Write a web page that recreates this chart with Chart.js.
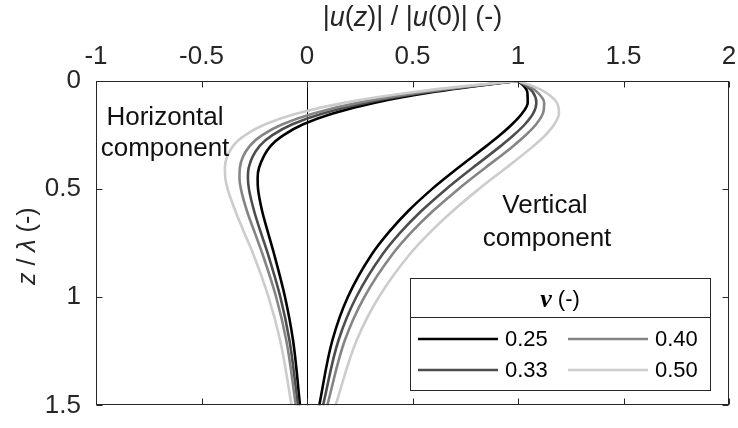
<!DOCTYPE html>
<html>
<head>
<meta charset="utf-8">
<script src="https://cdn.jsdelivr.net/npm/chart.js@4/dist/chart.umd.min.js"></script>
<style>
  html, body { margin: 0; padding: 0; background: #ffffff; }
  #wrap { width: 738px; height: 428px; }
</style>
</head>
<body>
<div id="wrap"><canvas id="c" width="738" height="428"></canvas></div>
<script>
// Normalised depth z / lambda
const depth = [0, 0.025, 0.05, 0.1, 0.15, 0.2, 0.25, 0.3, 0.4, 0.45, 0.5, 0.6, 0.7, 0.8, 1.0, 1.2, 1.5];

// Poisson's ratios
const poissonLabels = ['0.25', '0.33', '0.40', '0.50'];

// Horizontal component |u(z)| / |u(0)|
const horiz025 = [1, 0.787, 0.606, 0.322, 0.122, -0.018, -0.111, -0.172, -0.227, -0.234, -0.232, -0.213, -0.185, -0.156, -0.104, -0.066, -0.033];
const horiz033 = [1, 0.773, 0.581, 0.283, 0.074, -0.069, -0.164, -0.224, -0.276, -0.280, -0.275, -0.251, -0.219, -0.185, -0.126, -0.083, -0.043];
const horiz040 = [1, 0.760, 0.558, 0.246, 0.030, -0.116, -0.212, -0.271, -0.318, -0.320, -0.313, -0.285, -0.248, -0.211, -0.146, -0.098, -0.053];
const horiz050 = [1, 0.736, 0.515, 0.180, -0.048, -0.198, -0.293, -0.350, -0.389, -0.387, -0.376, -0.340, -0.298, -0.255, -0.182, -0.127, -0.073];

// Vertical component |u(z)| / |u(0)|
const vert025 = [1, 1.029, 1.044, 1.046, 1.019, 0.972, 0.915, 0.851, 0.718, 0.654, 0.592, 0.481, 0.387, 0.308, 0.193, 0.120, 0.058];
const vert033 = [1, 1.042, 1.069, 1.087, 1.072, 1.033, 0.980, 0.919, 0.787, 0.722, 0.659, 0.543, 0.443, 0.359, 0.233, 0.149, 0.076];
const vert040 = [1, 1.054, 1.090, 1.124, 1.118, 1.086, 1.037, 0.978, 0.847, 0.781, 0.717, 0.598, 0.494, 0.406, 0.271, 0.179, 0.096];
const vert050 = [1, 1.074, 1.127, 1.184, 1.194, 1.172, 1.130, 1.074, 0.946, 0.879, 0.814, 0.692, 0.583, 0.488, 0.340, 0.235, 0.135];

// Axis ticks
const xTicks = [-1, -0.5, 0, 0.5, 1, 1.5, 2];
const yTicks = [0, 0.5, 1, 1.5];

// Styling
const lineColors = ['#000000', '#4d4d4d', '#858585', '#cccccc'];
const SANS = '"Liberation Sans", Arial, Helvetica, sans-serif';
const SERIF = '"Liberation Serif", "Times New Roman", serif';
const AXIS_COLOR = '#262626';

const horizSets = [horiz025, horiz033, horiz040, horiz050];
const vertSets = [vert025, vert033, vert040, vert050];

const toPoints = vals => vals.map((v, k) => ({ x: v, y: depth[k] }));

const datasets = [];
poissonLabels.forEach((nu, i) => {
  const common = {
    borderColor: lineColors[i],
    backgroundColor: lineColors[i],
    borderWidth: 2.6,
    pointRadius: 0,
    pointHoverRadius: 0,
    cubicInterpolationMode: 'monotone',
    fill: false,
    order: poissonLabels.length - i
  };
  datasets.push(Object.assign({ label: nu + ' horizontal', data: toPoints(horizSets[i]) }, common));
  datasets.push(Object.assign({ label: nu + ' vertical', data: toPoints(vertSets[i]) }, common));
});

// Draw a run of text pieces with individual fonts, starting at x (or centred)
function richWidth(ctx, parts) {
  let w = 0;
  parts.forEach(p => { ctx.font = p.font; w += ctx.measureText(p.text).width; });
  return w;
}
function drawRich(ctx, parts, x, y, align) {
  const w = richWidth(ctx, parts);
  let cx = align === 'center' ? x - w / 2 : x;
  ctx.textAlign = 'left';
  ctx.textBaseline = 'middle';
  parts.forEach(p => {
    ctx.font = p.font;
    ctx.fillText(p.text, cx, y);
    cx += ctx.measureText(p.text).width;
  });
}

const decor = {
  id: 'decor',
  beforeDatasetsDraw(chart) {
    const { ctx, chartArea: a, scales: { x } } = chart;
    const x0 = Math.round(x.getPixelForValue(0)) + 0.5;
    ctx.save();
    ctx.strokeStyle = '#000000';
    ctx.lineWidth = 1;
    ctx.beginPath();
    ctx.moveTo(x0, a.top);
    ctx.lineTo(x0, a.bottom);
    ctx.stroke();
    ctx.restore();
  },
  afterDatasetsDraw(chart) {
    const { ctx, chartArea: a, scales: { x, y } } = chart;
    ctx.save();

    // Box and inward ticks
    const L = Math.round(a.left) + 0.5, R = Math.round(a.right) - 0.5;
    const T = Math.round(a.top) + 0.5, B = Math.round(a.bottom) - 0.5;
    ctx.strokeStyle = AXIS_COLOR;
    ctx.lineWidth = 1;
    ctx.strokeRect(L, T, R - L, B - T);
    const tl = 6;
    ctx.beginPath();
    xTicks.forEach(v => {
      const px = Math.round(x.getPixelForValue(v)) + 0.5;
      ctx.moveTo(px, T); ctx.lineTo(px, T + tl);
      ctx.moveTo(px, B); ctx.lineTo(px, B - tl);
    });
    yTicks.forEach(v => {
      const py = Math.round(y.getPixelForValue(v)) + 0.5;
      ctx.moveTo(L, py); ctx.lineTo(L + tl, py);
      ctx.moveTo(R, py); ctx.lineTo(R - tl, py);
    });
    ctx.stroke();

    // Component annotations
    ctx.fillStyle = '#111111';
    ctx.font = '26px ' + SANS;
    ctx.textAlign = 'center';
    ctx.textBaseline = 'middle';
    ctx.fillText('Horizontal', 165, 118);
    ctx.fillText('component', 165, 149);
    ctx.fillText('Vertical', 545, 206);
    ctx.fillText('component', 547, 239);

    // Legend
    const lx = 410.5, ly = 278.5, lw = 300, lh = 112, div = 317.5;
    ctx.fillStyle = '#ffffff';
    ctx.fillRect(lx, ly, lw, lh);
    ctx.strokeStyle = AXIS_COLOR;
    ctx.lineWidth = 1;
    ctx.strokeRect(lx, ly, lw, lh);
    ctx.beginPath();
    ctx.moveTo(lx, div); ctx.lineTo(lx + lw, div);
    ctx.stroke();

    ctx.fillStyle = '#000000';
    drawRich(ctx, [
      { text: '\u03BD', font: 'italic bold 26px ' + SERIF },
      { text: ' (-)', font: '22px ' + SANS }
    ], 560, 300, 'center');

    const cols = [{ x1: 418, x2: 498, tx: 505 }, { x1: 568, x2: 648, tx: 655 }];
    const rows = [339, 370];
    poissonLabels.forEach((nu, i) => {
      const c = cols[Math.floor(i / 2)], r = rows[i % 2];
      ctx.strokeStyle = lineColors[i];
      ctx.lineWidth = 2.6;
      ctx.beginPath();
      ctx.moveTo(c.x1, r); ctx.lineTo(c.x2, r);
      ctx.stroke();
      ctx.fillStyle = '#000000';
      ctx.font = '22px ' + SANS;
      ctx.textAlign = 'left';
      ctx.textBaseline = 'middle';
      ctx.fillText(nu, c.tx, r + 1);
    });

    // Axis titles
    ctx.fillStyle = AXIS_COLOR;
    const n = '27px ' + SANS, it = 'italic 27px ' + SANS;
    drawRich(ctx, [
      { text: '|', font: n }, { text: 'u', font: it }, { text: '(', font: n },
      { text: 'z', font: it }, { text: ')| / |', font: n }, { text: 'u', font: it },
      { text: '(0)| (-)', font: n }
    ], (a.left + a.right) / 2, 18, 'center');

    const ny = '25px ' + SANS, ity = 'italic 25px ' + SANS;
    ctx.save();
    ctx.translate(28, (a.top + a.bottom) / 2 + 3);
    ctx.rotate(-Math.PI / 2);
    drawRich(ctx, [
      { text: 'z', font: ity }, { text: ' / ', font: ny },
      { text: '\u03BB', font: ity }, { text: ' (-)', font: ny }
    ], 0, 0, 'center');
    ctx.restore();

    ctx.restore();
  }
};

new Chart(document.getElementById('c'), {
  type: 'line',
  data: { datasets },
  options: {
    indexAxis: 'y',
    responsive: false,
    devicePixelRatio: 1,
    animation: false,
    events: [],
    layout: { padding: { left: 0, top: 0, right: 9, bottom: 17 } },
    plugins: { legend: { display: false }, tooltip: { enabled: false } },
    scales: {
      x: {
        type: 'linear',
        position: 'top',
        min: -1, max: 2,
        afterBuildTicks: s => { s.ticks = xTicks.map(v => ({ value: v })); },
        afterFit: s => { s.height = 81; },
        grid: { display: false },
        border: { display: false },
        ticks: {
          color: AXIS_COLOR,
          font: { family: SANS, size: 26 },
          padding: 1,
          maxRotation: 0,
          autoSkip: false,
          callback: v => String(v)
        }
      },
      y: {
        type: 'linear',
        position: 'left',
        reverse: true,
        min: 0, max: 1.5,
        afterBuildTicks: s => { s.ticks = yTicks.map(v => ({ value: v })); },
        afterFit: s => { s.width = 96; },
        grid: { display: false },
        border: { display: false },
        ticks: {
          color: AXIS_COLOR,
          font: { family: SANS, size: 26 },
          padding: 7,
          autoSkip: false,
          callback: v => String(v)
        }
      }
    }
  },
  plugins: [decor]
});
</script>
</body>
</html>
